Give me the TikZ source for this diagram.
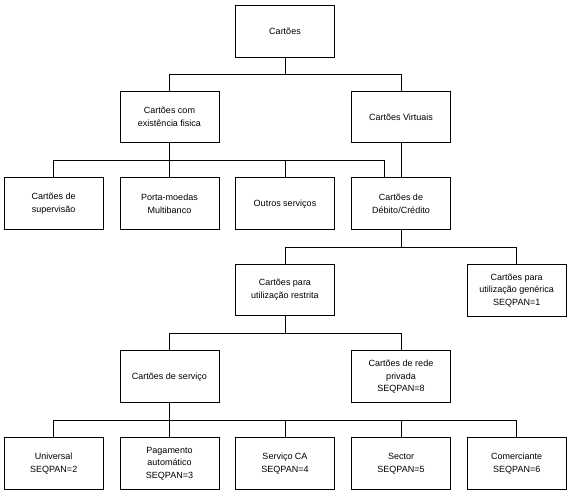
\documentclass[tikz,border=0pt]{standalone}
\usepackage{fontspec}
\setmainfont{Liberation Sans}
\usetikzlibrary{calc}
\begin{document}
\begin{tikzpicture}[x=1pt,y=-1pt,
  box/.style={draw,line width=1pt,minimum width=99pt,minimum height=51.5pt,inner sep=0pt,
    align=center,font=\fontsize{9}{12.5}\selectfont},
  link/.style={line width=1pt}]
\useasboundingbox (0,0) rectangle (572,495);
% nodes
\node[box] (top) at (285,31.3) {Cartões};
\node[box] (fis) at (169.5,117) {Cartões com\\existência fisica};
\node[box] (vir) at (401,117) {Cartões Virtuais};
\node[box] (sup) at (53.7,203.7) {Cartões de\\supervisão};
\node[box] (pm) at (169.5,203.7) {Porta-moedas\\Multibanco};
\node[box] (out) at (285,203.7) {Outros serviços};
\node[box] (deb) at (401,203.7) {Cartões de\\Débito/Crédito};
\node[box] (res) at (285,289.8) {Cartões para\\utilização restrita};
\node[box] (gen) at (516.7,290.3) {Cartões para\\utilização genérica\\SEQPAN=1};
\node[box] (ser) at (169.5,376.7) {Cartões de serviço};
\node[box] (red) at (401,376.7) {Cartões de rede\\privada\\SEQPAN=8};
\node[box] (uni) at (53.7,463.5) {Universal\\SEQPAN=2};
\node[box] (pag) at (169.5,463.5) {Pagamento\\automático\\SEQPAN=3};
\node[box] (sca) at (285,463.5) {Serviço CA\\SEQPAN=4};
\node[box] (sec) at (401,463.5) {Sector\\SEQPAN=5};
\node[box] (com) at (516.7,463.5) {Comerciante\\SEQPAN=6};
% bus levels
\coordinate (b1) at (0,74.7);
\coordinate (b2) at (0,160);
\coordinate (b3) at (0,247.3);
\coordinate (b4) at (0,333.3);
\coordinate (b5) at (0,420.3);
\coordinate (debL) at ($(deb.north)+(-16.7,0)$);
% connectors
\foreach \c in {fis,vir}
  \draw[link] (top.south) -- (top.south |- b1) -| (\c.north);
\foreach \c in {sup,pm,out}
  \draw[link] (fis.south) -- (fis.south |- b2) -| (\c.north);
\draw[link] (fis.south) -- (fis.south |- b2) -| (debL);
\draw[link] (vir.south) -- (deb.north);
\foreach \c in {res,gen}
  \draw[link] (deb.south) -- (deb.south |- b3) -| (\c.north);
\foreach \c in {ser,red}
  \draw[link] (res.south) -- (res.south |- b4) -| (\c.north);
\foreach \c in {uni,pag,sca,sec,com}
  \draw[link] (ser.south) -- (ser.south |- b5) -| (\c.north);
\end{tikzpicture}
\end{document}
